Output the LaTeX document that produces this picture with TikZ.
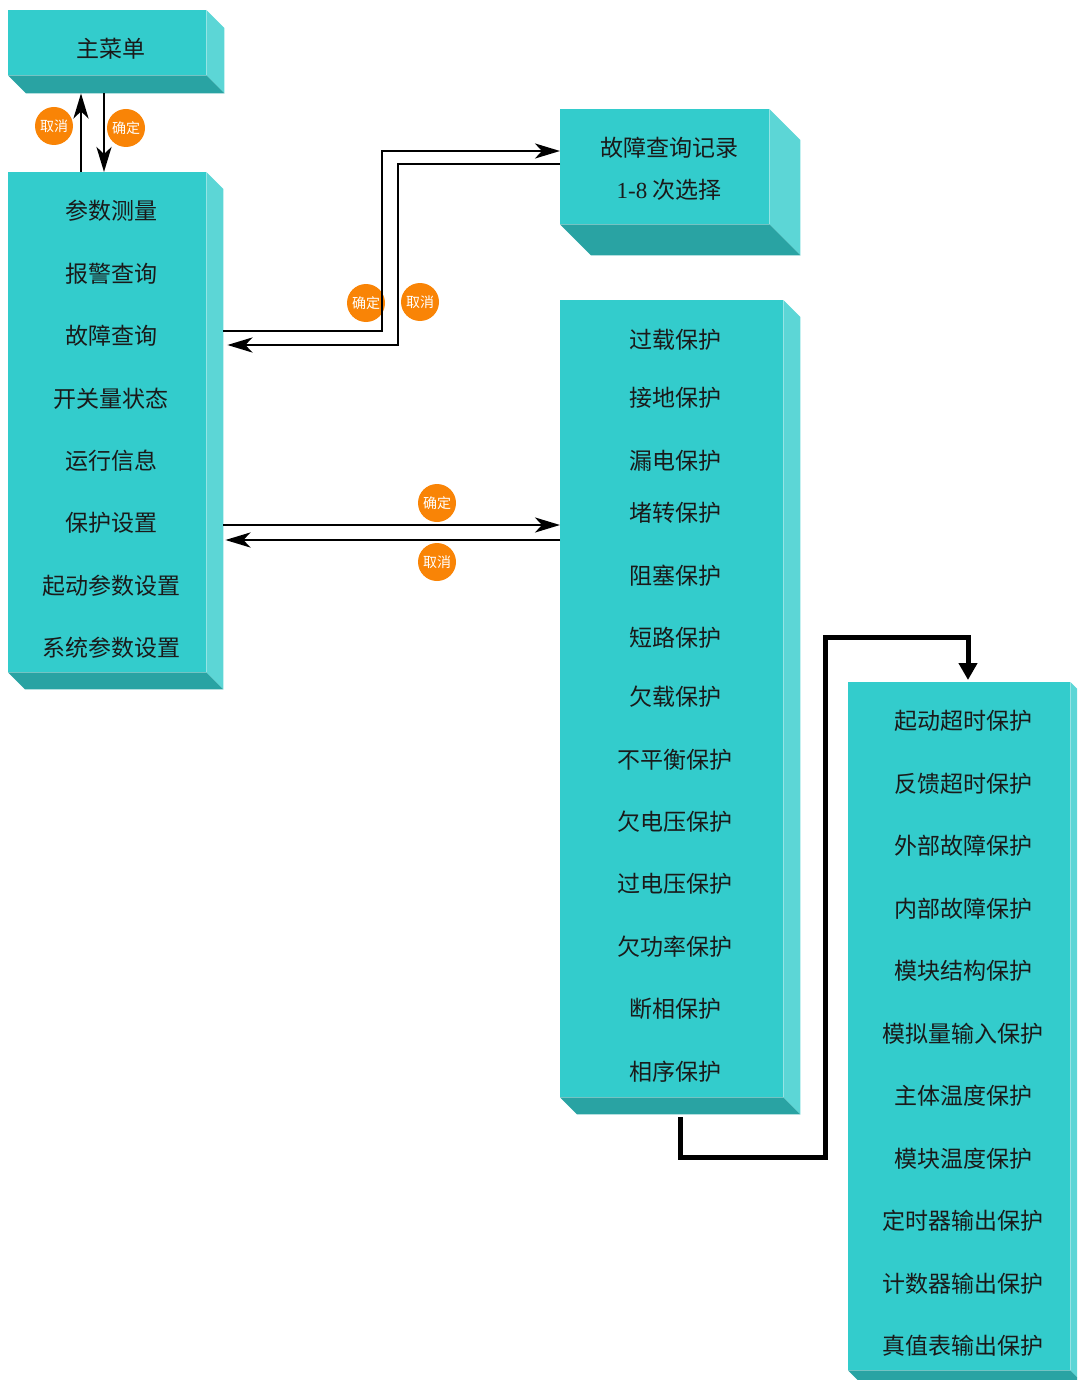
\documentclass[tikz,border=0pt]{standalone}
\usepackage{fontspec}
\setmainfont{Liberation Serif}
\newfontfamily\cjk{Noto Sans CJK SC}
\usetikzlibrary{arrows.meta,calc}
\definecolor{frontc}{HTML}{33CCCC}
\definecolor{sidec}{HTML}{5CD6D6}
\definecolor{bottomc}{HTML}{29A3A3}
\definecolor{badgec}{HTML}{F98406}
\definecolor{txtc}{HTML}{1A1A1A}
\tikzset{
  panel/.style={fill=frontc, draw=none, anchor=north west, inner sep=0pt},
  item/.style={font=\cjk\fontsize{23}{27}\selectfont, text=txtc, inner sep=0pt},
  badge/.style={circle, fill=badgec, minimum size=38pt, inner sep=0pt, text=white, font=\cjk\fontsize{14}{16}\selectfont},
  thinarr/.style={line width=2.8pt, line join=miter, -{Stealth[length=25pt,width=15pt,inset=7pt]}},
  thickarr/.style={line width=5pt, line join=miter, -{Triangle[length=17pt,width=18pt]}}
}
\newcommand\boxfaces[2]{%
  \fill[sidec] (#1.north east) -- ++(#2,#2) -- ($(#1.south east)+(#2,#2)$) -- (#1.south east) -- cycle;
  \fill[bottomc] (#1.south west) -- (#1.south east) -- ++(#2,#2) -- ($(#1.south west)+(#2,#2)$) -- cycle;}
\begin{document}
\begin{tikzpicture}[x=1pt,y=-1pt]
\useasboundingbox (0,0) rectangle (1077,1380);
\clip (0,0) rectangle (1077,1380);

% panels
\node[panel, minimum width=198pt, minimum height=65pt] (main) at (8,10) {};
\node[panel, minimum width=198pt, minimum height=500pt] (menu) at (8,172) {};
\node[panel, minimum width=209pt, minimum height=115pt] (record) at (560,109) {};
\node[panel, minimum width=223pt, minimum height=797pt] (prot) at (560,300) {};
\node[panel, minimum width=222pt, minimum height=688pt] (ext) at (848,682) {};
\boxfaces{main}{18}
\boxfaces{menu}{17}
\boxfaces{record}{31}
\boxfaces{prot}{17}
\boxfaces{ext}{17}

% texts
\node[item] (tmain) at (111,49) {主菜单};
\foreach \t [count=\i] in {参数测量,报警查询,故障查询,开关量状态,运行信息,保护设置,起动参数设置,系统参数设置}
  \node[item] (m\i) at (111,{211+62.43*(\i-1)}) {\t};
\node[item] (rec1) at (669,148) {故障查询记录};
\node[item] (rec2) at (669,190) {{\rmfamily 1-8} 次选择};
\foreach \t/\y [count=\i] in {过载保护/340,接地保护/398,漏电保护/461,堵转保护/513,阻塞保护/576,短路保护/638,欠载保护/697,不平衡保护/760,欠电压保护/822,过电压保护/884,欠功率保护/947,断相保护/1009,相序保护/1072}
  \node[item] (p\i) at (675,\y) {\t};
\foreach \t [count=\i] in {起动超时保护,反馈超时保护,外部故障保护,内部故障保护,模块结构保护,模拟量输入保护,主体温度保护,模块温度保护,定时器输出保护,计数器输出保护,真值表输出保护}
  \node[item] (e\i) at (963,{721+62.5*(\i-1)}) {\t};

% badges
\node[badge] (b1) at (54,126) {取消};
\node[badge] (b2) at (126,128) {确定};
\node[badge] (b3) at (366,303) {确定};
\node[badge] (b4) at (420,302) {取消};
\node[badge] (b5) at (437,503) {确定};
\node[badge] (b6) at (437,562) {取消};

% helper coordinates
\coordinate (mainB) at ($(main.south west)+(18,18)$);
\coordinate (menuR) at ($(menu.north east)+(17,17)$);
\coordinate (xa) at (81,0);
\coordinate (xb) at (104,0);
\coordinate (k1) at (382,331);
\coordinate (k2) at (382,151);
\coordinate (k3) at (398,164);
\coordinate (k4) at (398,345);
\coordinate (k5) at (0,525);
\coordinate (k6) at (0,540);
\coordinate (j1) at (680,1117);
\coordinate (j2) at (680,1157);
\coordinate (j3) at (825,1157);
\coordinate (j4) at (825,637);
\coordinate (j5) at (968,637);

% connectors
\draw[thinarr] (menu.north -| xa) -- (mainB -| xa);
\draw[thinarr] (mainB -| xb) -- (menu.north -| xb);
\draw[thinarr] (menuR |- k1) -- (k1) -- (k2) -- (record.west |- k2);
\draw[thinarr, shorten >=4pt] (record.west |- k3) -- (k3) -- (k4) -- (menuR |- k4);
\draw[thinarr] (menuR |- k5) -- (prot.west |- k5);
\draw[thinarr, shorten >=2pt] (prot.west |- k6) -- (menuR |- k6);
\draw[thickarr, shorten >=2pt] (j1) -- (j2) -- (j3) -- (j4) -- (j5) -- (ext.north -| j5);
\end{tikzpicture}
\end{document}
